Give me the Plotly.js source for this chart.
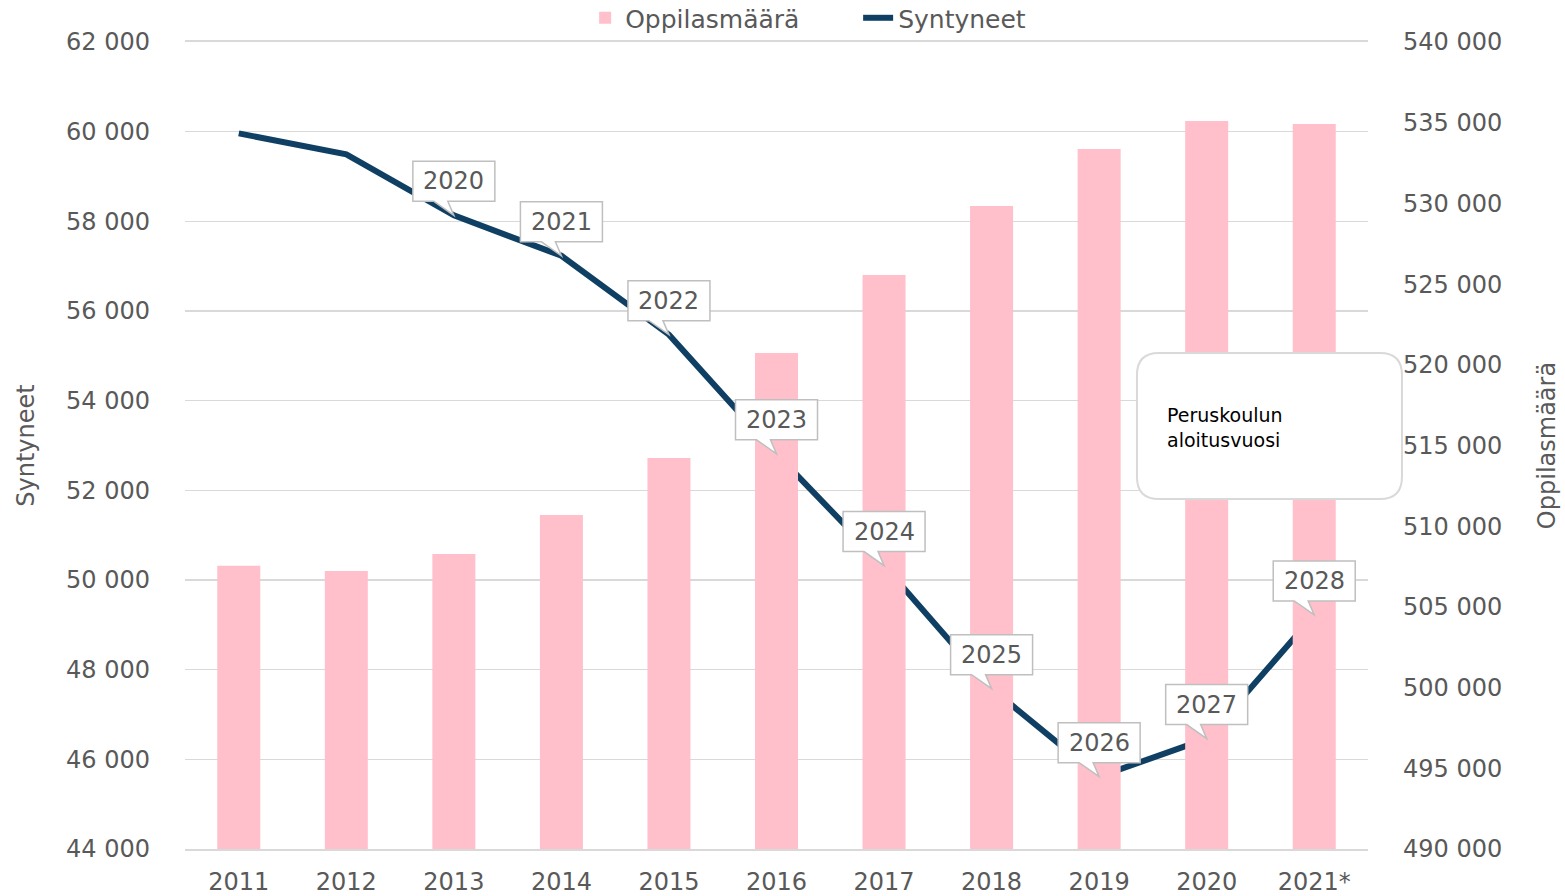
<!DOCTYPE html>
<html>
<head>
<meta charset="utf-8">
<script src="https://cdn.plot.ly/plotly-3.0.1.min.js"></script>
<style>html,body{margin:0;padding:0;background:#fff;}#chart{width:1565px;height:896px;}</style>
</head>
<body>
<div id="chart"></div>
<script>
// Data
const years = ['2011','2012','2013','2014','2015','2016','2017','2018','2019','2020','2021*'];
const pupils = [507550, 507220, 508280, 510690, 514230, 520730, 525560, 529840, 533370, 535100, 534920];
const births = [59961, 59493, 58134, 57232, 55472, 52814, 50321, 47577, 45613, 46463, 49220];
const startYears = ['', '', '2020', '2021', '2022', '2023', '2024', '2025', '2026', '2027', '2028'];
const boxText = 'Peruskoulun<br>aloitusvuosi';

const FONT = 'DejaVu Sans';
const GREY = '#595959';

const traces = [
  {type: 'bar', name: 'Oppilasmäärä', x: years, y: pupils, yaxis: 'y2',
   marker: {color: '#ffc0cb'}, hoverinfo: 'x+y'},
  {type: 'scatter', mode: 'lines', name: 'Syntyneet', x: years, y: births, yaxis: 'y',
   line: {color: '#0f4064', width: 6}}
];

const shapes = [];
const annotations = [];
startYears.forEach((lab, i) => {
  if (!lab) return;
  shapes.push({
    type: 'path', layer: 'above',
    xref: 'x', yref: 'y', xsizemode: 'pixel', ysizemode: 'pixel',
    xanchor: i, yanchor: births[i],
    path: 'M -41,14 L -20,14 L 0,0 L -6,14 L 41,14 L 41,54 L -41,54 Z',
    fillcolor: '#ffffff', line: {color: '#bfbfbf', width: 1.5}
  });
  annotations.push({
    x: i, y: births[i], xref: 'x', yref: 'y', yshift: 34,
    text: lab, showarrow: false, font: {family: FONT, size: 24, color: GREY}
  });
});

// Rounded explanation box
shapes.push({
  type: 'path', layer: 'above',
  xref: 'paper', yref: 'paper', xsizemode: 'pixel', ysizemode: 'pixel',
  xanchor: 0.8047, yanchor: 0.4337,
  path: 'M 22,0 L 243,0 Q 265,0 265,22 L 265,124 Q 265,146 243,146 L 22,146 Q 0,146 0,124 L 0,22 Q 0,0 22,0 Z',
  fillcolor: '#ffffff', line: {color: '#d9d9d9', width: 2}
});
annotations.push({
  xref: 'paper', yref: 'paper', x: 0.8284, y: 0.5229, xanchor: 'left', yanchor: 'middle',
  align: 'left', text: boxText, showarrow: false,
  font: {family: FONT, size: 19, color: '#000000'}
});

const layout = {
  width: 1565, height: 896,
  margin: {l: 185, r: 197, t: 42, b: 47, autoexpand: false},
  paper_bgcolor: '#ffffff', plot_bgcolor: '#ffffff',
  separators: ', ',
  font: {family: FONT, size: 24, color: GREY},
  bargap: 0.6,
  showlegend: true,
  legend: {orientation: 'h', x: 0.569, xanchor: 'center', y: 1.0297, yanchor: 'middle',
           font: {family: FONT, size: 25, color: GREY}, bgcolor: 'rgba(0,0,0,0)',
           itemwidth: 30, entrywidth: 228, tracegroupgap: 0},
  xaxis: {type: 'category', range: [-0.5, 10.5], autorange: false, showgrid: false,
          showline: true, mirror: true, linecolor: '#d9d9d9', linewidth: 2,
          ticks: '', tickfont: {family: FONT, size: 24, color: GREY}, ticklabelstandoff: 10,
          automargin: false},
  yaxis: {range: [44000, 62000], autorange: false, dtick: 2000, tickformat: ',d', showgrid: true,
          gridcolor: '#d9d9d9', gridwidth: 1.5, zeroline: false, showline: false, ticks: '',
          tickfont: {family: FONT, size: 24, color: GREY}, ticklabelstandoff: 34,
          title: {text: 'Syntyneet', font: {family: FONT, size: 24, color: GREY}, standoff: 24},
          automargin: false},
  yaxis2: {range: [490000, 540000], autorange: false, dtick: 5000, tickformat: ',d', overlaying: 'y', side: 'right',
           showgrid: false, zeroline: false, showline: false, ticks: '',
           tickfont: {family: FONT, size: 24, color: GREY}, ticklabelstandoff: 34,
           title: {text: 'Oppilasmäärä', font: {family: FONT, size: 24, color: GREY}, standoff: 36},
           automargin: false},
  shapes: shapes,
  annotations: annotations
};

Plotly.newPlot('chart', traces, layout, {displayModeBar: false, staticPlot: true});
</script>
</body>
</html>
